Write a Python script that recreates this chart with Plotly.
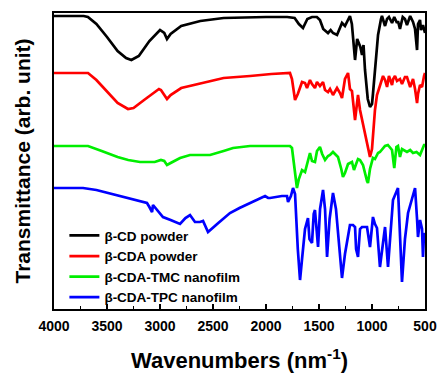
import plotly.graph_objects as go

# Wavenumber (cm^-1 as labelled nm^-1) and transmittance (arbitrary, offset) values
cd_w = [4000, 3720, 3680, 3600, 3500, 3400, 3320, 3270, 3200, 3100, 3000, 2960, 2934, 2900, 2800, 2620, 2400, 2150, 2000, 1800, 1730, 1690, 1651, 1610, 1566, 1520, 1491, 1460, 1415, 1390, 1368, 1330, 1300, 1283, 1255, 1208, 1190, 1179, 1160, 1140, 1132, 1110, 1094, 1080, 1066, 1040, 1019, 1000, 991, 972, 953, 943, 915, 906, 877, 858, 840, 811, 790, 764, 755, 736, 710, 689, 670, 640, 613, 594, 575, 566, 547, 538, 519, 500]
cd_t = [293, 293, 292, 285, 272, 258, 251, 249, 253, 268, 279, 276, 270, 275, 283, 288, 291, 292, 292, 292, 291, 285, 281, 290, 292, 292, 289, 280, 276, 279, 276, 274, 282, 286, 283, 293, 285, 269, 249, 270, 268, 262, 254, 264, 239, 210, 202, 205, 215, 239, 259, 274, 290, 293, 283, 290, 292, 286, 292, 286, 288, 280, 292, 290, 284, 293, 287, 280, 259, 285, 289, 279, 284, 276]

cda_w = [4000, 3720, 3679, 3600, 3500, 3400, 3302, 3250, 3150, 3050, 3010, 2991, 2934, 2900, 2800, 2600, 2400, 2150, 1950, 1774, 1755, 1726, 1700, 1660, 1632, 1613, 1585, 1566, 1538, 1519, 1491, 1462, 1443, 1415, 1396, 1368, 1330, 1302, 1283, 1255, 1226, 1208, 1189, 1160, 1140, 1132, 1113, 1094, 1066, 1047, 1019, 1000, 972, 953, 925, 896, 877, 858, 840, 811, 800, 783, 764, 736, 717, 689, 670, 640, 613, 594, 575, 566, 547, 528, 509, 500]
cda_t = [236, 236, 236, 229, 217, 206, 200, 201, 209, 217, 220, 219, 210, 214, 221, 226, 231, 233, 235, 236, 230, 209, 215, 227, 226, 221, 229, 225, 221, 227, 223, 227, 219, 217, 220, 214, 221, 216, 211, 230, 236, 220, 218, 189, 205, 214, 199, 189, 175, 165, 152, 160, 199, 214, 224, 233, 229, 222, 233, 224, 230, 233, 228, 230, 225, 232, 232, 222, 230, 220, 206, 215, 224, 222, 233, 236]

tmc_w = [4000, 3720, 3679, 3550, 3400, 3300, 3189, 3050, 2991, 2960, 2934, 2900, 2811, 2717, 2528, 2400, 2311, 2151, 1900, 1802, 1774, 1755, 1730, 1708, 1690, 1660, 1632, 1604, 1585, 1566, 1538, 1519, 1491, 1470, 1443, 1415, 1396, 1368, 1340, 1321, 1290, 1274, 1255, 1226, 1189, 1170, 1150, 1132, 1113, 1085, 1047, 1038, 1019, 991, 972, 943, 925, 896, 877, 850, 830, 811, 790, 770, 755, 736, 717, 700, 670, 640, 613, 580, 547, 509, 500]
tmc_t = [163, 163, 163, 158, 152, 149, 147, 147, 149, 148, 144, 146, 151, 154, 154, 158, 161, 163, 163, 163, 163, 161, 140, 121, 130, 139, 137, 147, 156, 148, 147, 158, 162, 155, 149, 153, 154, 157, 154, 152, 140, 132, 136, 145, 147, 139, 145, 150, 149, 144, 128, 126, 140, 151, 150, 156, 157, 161, 163, 164, 161, 159, 141, 162, 163, 152, 160, 159, 157, 159, 156, 157, 154, 164, 164]

tpc_w = [4000, 3726, 3600, 3450, 3300, 3200, 3123, 3100, 3075, 3066, 3000, 2972, 2900, 2811, 2760, 2717, 2670, 2623, 2594, 2547, 2450, 2340, 2250, 2151, 2009, 1980, 1962, 1850, 1802, 1792, 1765, 1745, 1726, 1700, 1679, 1660, 1632, 1604, 1590, 1566, 1550, 1538, 1520, 1509, 1490, 1462, 1443, 1424, 1400, 1368, 1340, 1283, 1255, 1226, 1208, 1179, 1160, 1150, 1132, 1113, 1094, 1066, 1047, 1019, 991, 972, 953, 925, 906, 877, 849, 830, 802, 755, 717, 689, 660, 623, 594, 575, 566, 547, 528, 519, 509, 500]
tpc_t = [121, 121, 119, 115, 111, 108, 106, 102, 97, 104, 95, 92, 89, 85, 91, 94, 87, 87, 88, 77, 86, 96, 101, 106, 113, 111, 111, 113, 113, 107, 113, 121, 115, 60, 29, 50, 80, 91, 70, 66, 95, 99, 80, 62, 100, 119, 100, 52, 90, 116, 100, 31, 55, 75, 84, 84, 82, 60, 52, 80, 82, 82, 82, 62, 92, 85, 81, 42, 60, 82, 42, 70, 109, 121, 27, 70, 96, 110, 121, 90, 72, 89, 80, 52, 76, 70]

series = [
    ("β-CD powder", cd_w, cd_t, "#000000"),
    ("β-CDA powder", cda_w, cda_t, "#ff0000"),
    ("β-CDA-TMC nanofilm", tmc_w, tmc_t, "#00ee00"),
    ("β-CDA-TPC nanofilm", tpc_w, tpc_t, "#0000ff"),
]

x_ticks = [4000, 3500, 3000, 2500, 2000, 1500, 1000, 500]

fig = go.Figure()
for name, w, t, c in series:
    fig.add_trace(go.Scatter(x=w, y=t, mode="lines", name=name,
                             line=dict(color=c, width=2.7)))

font_family = "Arial, Liberation Sans, sans-serif"
fig.update_layout(
    width=442, height=373,
    margin=dict(l=54, r=17, t=13, b=64, autoexpand=False),
    paper_bgcolor="white", plot_bgcolor="white",
    font=dict(family=font_family, color="black"),
    showlegend=True,
    legend=dict(x=0.028, y=0.30, xanchor="left", yanchor="top",
                bgcolor="rgba(0,0,0,0)", font=dict(size=13.5, family=font_family, weight="bold"),
                tracegroupgap=0, itemwidth=30),
)
fig.update_xaxes(
    range=[4000, 500], tickvals=x_ticks, ticktext=[str(v) for v in x_ticks],
    automargin=False,
    showline=True, linecolor="black", linewidth=1.5, mirror=True,
    ticks="inside", ticklen=5, tickwidth=1.5, tickcolor="black",
    minor=dict(dtick=250, ticks="inside", ticklen=3, tickwidth=1.2, tickcolor="black"),
    showgrid=False, zeroline=False, ticklabelstandoff=3,
    tickfont=dict(size=14, family=font_family, weight="bold"),
    title=dict(text="Wavenumbers (nm<sup>-1</sup>)", font=dict(size=22, family=font_family, weight="bold"), standoff=20),
)
fig.update_yaxes(
    range=[0, 296], showticklabels=False, ticks="",
    automargin=False,
    showline=True, linecolor="black", linewidth=1.5, mirror=True,
    showgrid=False, zeroline=False,
    title=dict(text="Transmittance (arb. unit)", font=dict(size=21, family=font_family, weight="bold"), standoff=16),
)

fig.write_html("out.html")
